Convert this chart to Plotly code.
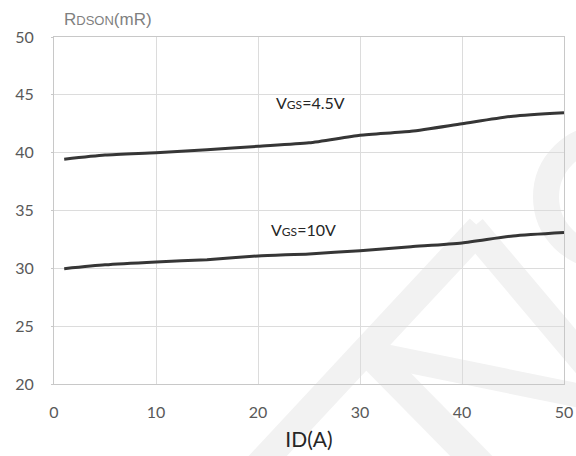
import plotly.graph_objects as go

# Data
id_a = [1, 5, 10, 15, 20, 25, 30, 35, 40, 45, 50]
r_vgs45 = [39.44, 39.8, 40.0, 40.25, 40.55, 40.85, 41.5, 41.85, 42.5, 43.15, 43.45]
r_vgs10 = [29.97, 30.3, 30.55, 30.75, 31.07, 31.25, 31.53, 31.87, 32.2, 32.8, 33.1]

x_ticks = [0, 10, 20, 30, 40, 50]
y_ticks = [20, 25, 30, 35, 40, 45, 50]

line_color = "#363636"

fig = go.Figure()
for ys in (r_vgs45, r_vgs10):
    fig.add_trace(go.Scatter(
        x=id_a, y=ys, mode="lines",
        line=dict(color=line_color, width=3, shape="spline", smoothing=0.6),
        showlegend=False, hoverinfo="skip",
    ))

W, H = 576, 456
L, R, T, B = 54, 12, 37, 72
pw, ph = W - L - R, H - T - B
def px(x):
    return (x - L) / pw
def py(y):
    return (H - B - y) / ph

# faint watermark strokes (paper coordinates)
wm = "#f2f2f2"
def pline(x0, y0, x1, y1, w):
    fig.add_shape(type="line", xref="paper", yref="paper",
                  x0=px(x0), y0=py(y0), x1=px(x1), y1=py(y1),
                  line=dict(color=wm, width=w), layer="below")

pline(250, 475, 480, 228, 28)
pline(472, 228, 600, 380, 28)
pline(365, 352, 600, 400, 24)
pline(365, 348, 485, 470, 30)
fig.add_shape(type="circle", xref="paper", yref="paper",
              x0=px(546), y0=py(138), x1=px(664), y1=py(256),
              line=dict(color=wm, width=26), layer="below")

fig.add_annotation(
    x=0, y=1, xref="paper", yref="paper", xanchor="left", yanchor="bottom",
    xshift=8, yshift=6,
    text="R<span style='font-size:13px'>DSON</span>(mR)",
    showarrow=False,
    font=dict(family="Liberation Sans, Arial", size=17, color="#7f7f7f"),
)
fig.add_annotation(
    x=25.1, y=44.3, text="V<span style='font-size:12px'>GS</span>=4.5V",
    showarrow=False, xanchor="center", yanchor="middle",
    font=dict(family="Lato, Open Sans", size=16, color="#262626"),
)
fig.add_annotation(
    x=24.5, y=33.4, text="V<span style='font-size:12px'>GS</span>=10V",
    showarrow=False, xanchor="center", yanchor="middle",
    font=dict(family="Lato, Open Sans", size=16, color="#262626"),
)

fig.update_layout(
    width=W, height=H,
    margin=dict(l=L, r=R, t=T, b=B, autoexpand=False),
    paper_bgcolor="white", plot_bgcolor="white",
    font=dict(family="Lato, Open Sans", color="#595959"),
    xaxis=dict(
        range=[0, 50], tickvals=x_ticks, ticktext=[str(v) for v in x_ticks],
        automargin=False,
        showgrid=True, gridcolor="#dcdcdc", gridwidth=1,
        showline=True, linecolor="#c8c8c8", linewidth=1, mirror=True,
        zeroline=False, ticks="", ticklabelstandoff=14,
        tickfont=dict(size=16, color="#595959", family="Lato, Open Sans"),
        title=dict(text="ID(A)", standoff=12,
                   font=dict(size=21, color="#262626", family="Lato, Open Sans")),
    ),
    yaxis=dict(
        range=[20, 50], tickvals=y_ticks, ticktext=[str(v) for v in y_ticks],
        automargin=False,
        showgrid=True, gridcolor="#dcdcdc", gridwidth=1,
        showline=True, linecolor="#c8c8c8", linewidth=1, mirror=True,
        zeroline=False, ticks="outside", ticklen=2, tickcolor="#c8c8c8",
        ticklabelstandoff=14,
        tickfont=dict(size=16, color="#595959", family="Lato, Open Sans"),
    ),
)

fig.write_html("out.html", config={"displayModeBar": False},
               post_script="document.body.style.margin='0';")
